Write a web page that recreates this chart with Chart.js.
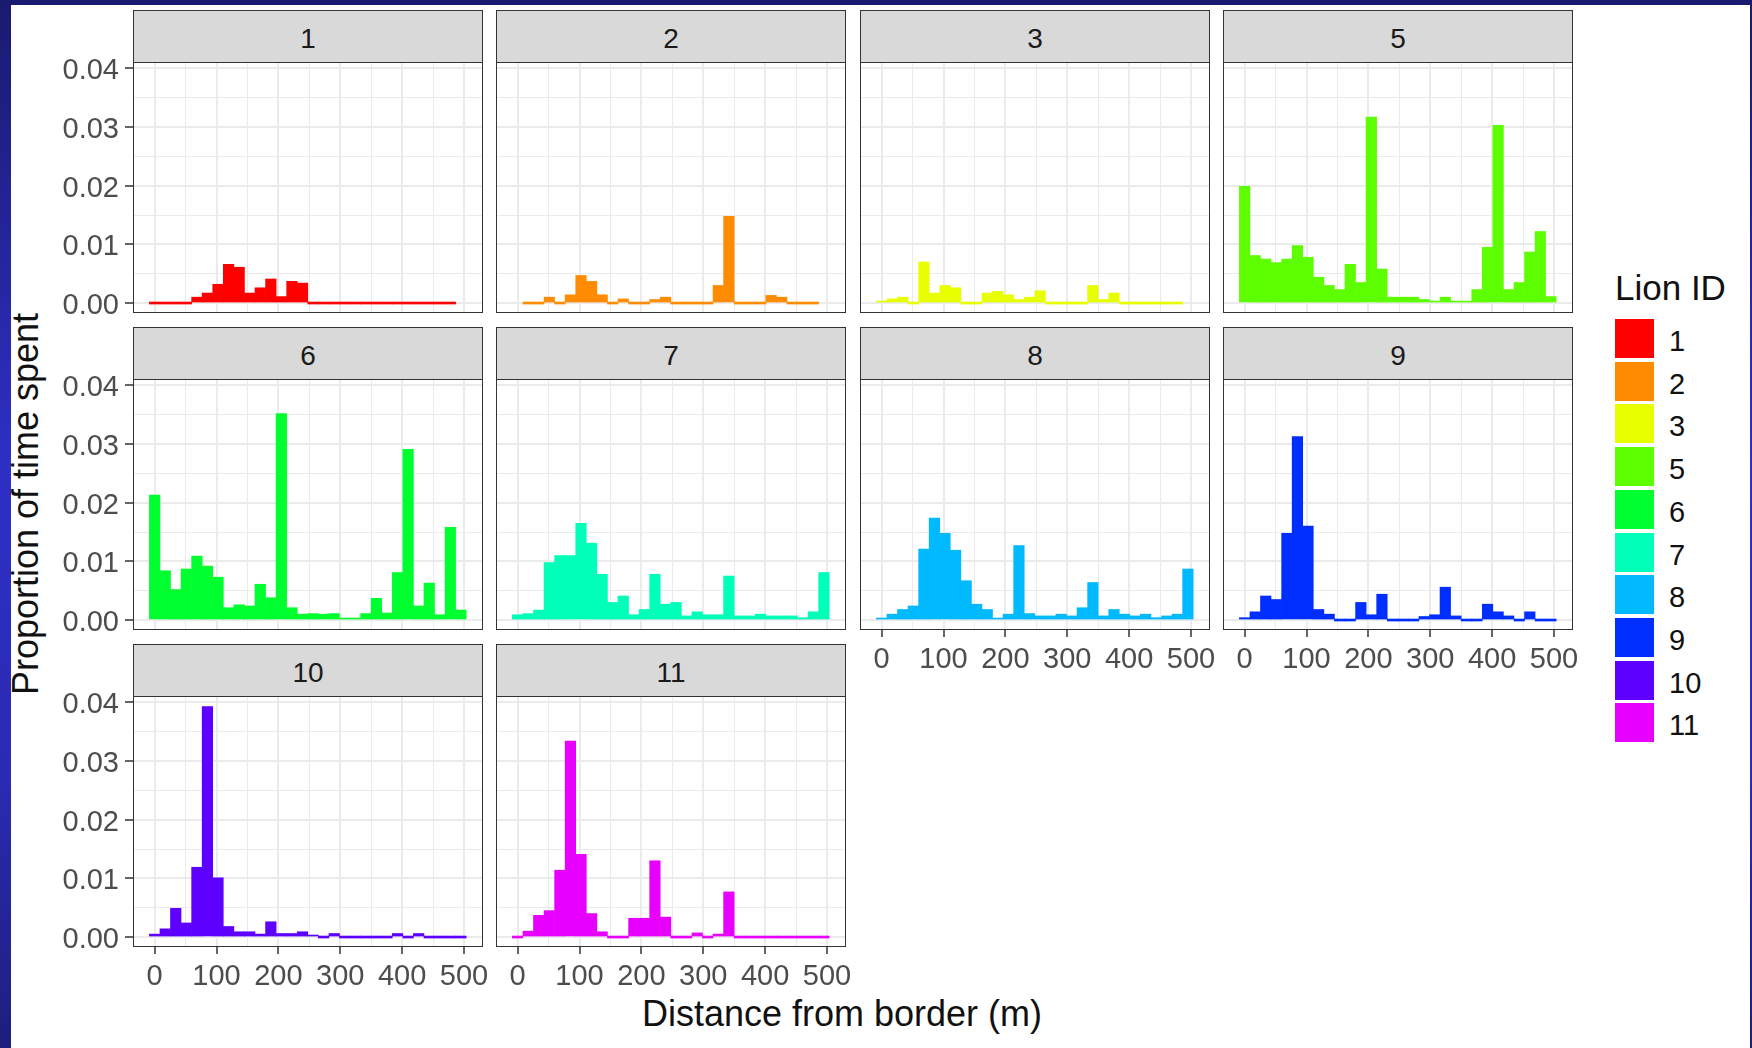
<!DOCTYPE html>
<html lang="en">
<head>
<meta charset="UTF-8">
<title>Proportion of time spent by distance from border</title>
<script src="https://cdn.jsdelivr.net/npm/chart.js"></script>
<style>
  body {
    margin: 0;
    width: 1752px;
    height: 1048px;
    overflow: hidden;
    position: relative;
    background: linear-gradient(to bottom, #1a1a70 0%, #2f2fc6 45%, #2a2ab2 75%, #1e1e7e 100%);
    font-family: "Liberation Sans", Arial, sans-serif;
  }
  .sheet { position: absolute; left: 11px; top: 5px; width: 1739px; height: 1043px; background: #fff; }
  .box { position: absolute; }
  .strip {
    position: absolute; background: #d9d9d9; border: 1.5px solid #333; box-sizing: border-box;
    text-align: center; color: #1a1a1a; font-size: 28px; line-height: 56px;
  }
  .frame { position: absolute; border: 1.5px solid #333; box-sizing: border-box; pointer-events: none; }
  .xtitle { position: absolute; left: 542px; top: 996px; width: 600px; text-align: center;
            font-size: 36px; line-height: 36px; color: #111; }
  .ytitle { position: absolute; left: -224px; top: 486px; width: 500px; height: 36px; text-align: center;
            font-size: 36px; line-height: 36px; color: #111; transform: rotate(-90deg); }
  .legend-title { position: absolute; left: 1615px; top: 268px; font-size: 35px; line-height: 40px; color: #111; }
  .key { position: absolute; left: 1615px; width: 39px; height: 39px; }
  .key-label { position: absolute; left: 1669px; font-size: 29px; line-height: 39px; color: #111; }
</style>
</head>
<body>
<div class="sheet"></div>
<div class="xtitle">Distance from border (m)</div>
<div class="ytitle">Proportion of time spent</div>
<div class="legend-title">Lion ID</div>

<script>
// histogram bins (centre of each 17 m bin)
const binCenters = [0, 17.1, 34.1, 51.2, 68.3, 85.3, 102.4, 119.5, 136.6, 153.6,
                    170.7, 187.8, 204.8, 221.9, 239, 256, 273.1, 290.2, 307.2, 324.3,
                    341.4, 358.4, 375.5, 392.6, 409.7, 426.7, 443.8, 460.9, 477.9, 495];
const xTicks = [0, 50, 100, 150, 200, 250, 300, 350, 400, 450, 500];
const yTicks = [0, 0.005, 0.01, 0.015, 0.02, 0.025, 0.03, 0.035, 0.04];

const lionIds = ['1', '2', '3', '5', '6', '7', '8', '9', '10', '11'];
const lionColors = ['#ff0000', '#ff8b00', '#e8ff00', '#5dff00', '#00ff2e',
                    '#00ffb9', '#00b9ff', '#002eff', '#5d00ff', '#e800ff'];

// proportion of time spent per bin, one array per lion
const lion1 = [0, 0, 0, 0, 0.001, 0.0017, 0.0032, 0.0066, 0.0061, 0.0017, 0.0026, 0.0041, 0.0011, 0.0037, 0.0034,
               0, 0, 0, 0, 0, 0, 0, 0, 0, 0, 0, 0, 0, 0, null];
const lion2 = [null, 0, 0, 0.001, 0, 0.0014, 0.0047, 0.0037, 0.0014, 0, 0.0007, 0, 0, 0.0006, 0.001,
               0, 0, 0, 0, 0.003, 0.0148, 0, 0, 0, 0.0013, 0.001, 0, 0, 0, null];
const lion3 = [0.0003, 0.0007, 0.001, 0, 0.007, 0.0017, 0.003, 0.0026, 0, 0, 0.0017, 0.002, 0.0014, 0.0006, 0.001,
               0.0021, 0, 0, 0, 0, 0.003, 0.0006, 0.0017, 0, 0, 0, 0, 0, 0, null];
const lion5 = [0.0199, 0.0081, 0.0075, 0.0069, 0.0075, 0.0098, 0.0078, 0.0044, 0.003, 0.0023, 0.0066, 0.0035, 0.0317, 0.0058, 0.001,
               0.001, 0.001, 0.0006, 0.0003, 0.001, 0.0003, 0.0003, 0.0023, 0.0095, 0.0303, 0.0023, 0.0035, 0.0087, 0.0122, 0.0011];
const lion6 = [0.0213, 0.0084, 0.0052, 0.0087, 0.0109, 0.0092, 0.0073, 0.0021, 0.0026, 0.0024, 0.0061, 0.0038, 0.0352, 0.0021, 0.001,
               0.0011, 0.001, 0.0011, 0.0003, 0.0003, 0.0011, 0.0037, 0.0012, 0.0081, 0.0291, 0.0024, 0.0063, 0.0009, 0.0158, 0.0017];
const lion7 = [0.0009, 0.0011, 0.0017, 0.0098, 0.011, 0.011, 0.0165, 0.0131, 0.0078, 0.003, 0.0041, 0.0009, 0.0018, 0.0078, 0.0027,
               0.003, 0.0007, 0.0014, 0.0009, 0.0009, 0.0075, 0.0007, 0.0007, 0.001, 0.0007, 0.0007, 0.0007, 0.0004, 0.0014, 0.0081];
const lion8 = [0.0003, 0.001, 0.0018, 0.0024, 0.0121, 0.0174, 0.0148, 0.0119, 0.0067, 0.0027, 0.0018, 0.0002, 0.001, 0.0127, 0.0011,
               0.0007, 0.0007, 0.001, 0.0007, 0.0021, 0.0064, 0.0007, 0.0018, 0.001, 0.0007, 0.001, 0.0004, 0.0007, 0.001, 0.0087];
const lion9 = [0.0004, 0.0014, 0.0041, 0.0035, 0.0148, 0.0313, 0.016, 0.0018, 0.001, 0, 0, 0.003, 0.0009, 0.0044, 0,
               0, 0, 0.0006, 0.0009, 0.0056, 0.0007, 0, 0, 0.0027, 0.0014, 0.0007, 0, 0.0014, 0, 0];
const lion10 = [0.0005, 0.0014, 0.0049, 0.0024, 0.0119, 0.0393, 0.0101, 0.0018, 0.0009, 0.0009, 0.0005, 0.0026, 0.0006, 0.0006, 0.0009,
                0.0003, 0, 0.0006, 0, 0, 0, 0, 0, 0.0006, 0, 0.0006, 0, 0, 0, 0];
const lion11 = [0, 0.001, 0.0037, 0.0045, 0.0114, 0.0334, 0.0141, 0.004, 0.0009, 0, 0, 0.0032, 0.0032, 0.013, 0.0034,
                0, 0, 0.0007, 0, 0.0005, 0.0077, 0, 0, 0, 0, 0, 0, 0, 0, 0];
const lionValues = [lion1, lion2, lion3, lion5, lion6, lion7, lion8, lion9, lion10, lion11];

// facet grid geometry
const plotLeft = [133, 496, 860, 1223];
const plotTop = [62, 379, 696];
const plotW = 350, plotH = 251, stripH = 52;
const yAxisW = 75, xAxisH = 50, pad = 40;
const fontFamily = '"Liberation Sans", Arial, sans-serif';

function isMajorX(v) { return v % 100 === 0; }
function isMajorY(v) { return Math.round(v * 1000) % 10 === 0; }

lionIds.forEach((id, i) => {
    const col = i % 4, row = Math.floor(i / 4);
    const showY = col === 0;
    const showX = row === 2 || (row === 1 && col >= 2);
    const aw = showY ? yAxisW : 0;
    const ah = showX ? xAxisH : 0;

    const strip = document.createElement('div');
    strip.className = 'strip';
    strip.style.left = plotLeft[col] + 'px';
    strip.style.top = (plotTop[row] - stripH) + 'px';
    strip.style.width = plotW + 'px';
    strip.style.height = (stripH + 1) + 'px';
    strip.textContent = id;
    document.body.appendChild(strip);

    const box = document.createElement('div');
    box.className = 'box';
    box.style.left = (plotLeft[col] - aw - pad) + 'px';
    box.style.top = (plotTop[row] - pad) + 'px';
    const canvas = document.createElement('canvas');
    canvas.width = pad + aw + plotW + pad;
    canvas.height = pad + plotH + ah + pad;
    box.appendChild(canvas);
    document.body.appendChild(box);

    const frame = document.createElement('div');
    frame.className = 'frame';
    frame.style.left = plotLeft[col] + 'px';
    frame.style.top = plotTop[row] + 'px';
    frame.style.width = plotW + 'px';
    frame.style.height = plotH + 'px';
    document.body.appendChild(frame);

    new Chart(canvas.getContext('2d'), {
        type: 'bar',
        data: {
            datasets: [{
                data: binCenters.map((x, k) => ({ x: x, y: lionValues[i][k] })),
                backgroundColor: lionColors[i],
                borderWidth: 0,
                barPercentage: 1,
                categoryPercentage: 1,
                minBarLength: 2
            }]
        },
        options: {
            responsive: false,
            animation: false,
            layout: { padding: pad },
            plugins: { legend: { display: false }, tooltip: { enabled: false } },
            scales: {
                x: {
                    type: 'linear',
                    min: -35,
                    max: 530.7,
                    offset: false,
                    afterBuildTicks: s => { s.ticks = xTicks.map(v => ({ value: v })); },
                    afterFit: s => { s.height = ah; },
                    border: { display: false },
                    grid: {
                        offset: false,
                        color: '#ebebeb',
                        lineWidth: c => isMajorX(c.tick.value) ? 2 : 1,
                        drawTicks: showX,
                        tickLength: 7,
                        tickWidth: 1.5,
                        tickColor: c => isMajorX(c.tick.value) ? '#333333' : 'rgba(0,0,0,0)'
                    },
                    ticks: {
                        display: showX,
                        autoSkip: false,
                        maxRotation: 0,
                        padding: 6,
                        color: '#4d4d4d',
                        font: { family: fontFamily, size: 29 },
                        callback: v => isMajorX(v) ? String(v) : ''
                    }
                },
                y: {
                    min: -0.0017,
                    max: 0.0411,
                    afterBuildTicks: s => { s.ticks = yTicks.map(v => ({ value: v })); },
                    afterFit: s => { s.width = aw; },
                    border: { display: false },
                    grid: {
                        color: '#ebebeb',
                        lineWidth: c => isMajorY(c.tick.value) ? 2 : 1,
                        drawTicks: showY,
                        tickLength: 8,
                        tickWidth: 1.5,
                        tickColor: c => isMajorY(c.tick.value) ? '#333333' : 'rgba(0,0,0,0)'
                    },
                    ticks: {
                        display: showY,
                        autoSkip: false,
                        padding: 6,
                        labelOffset: 3,
                        color: '#4d4d4d',
                        font: { family: fontFamily, size: 29 },
                        callback: v => isMajorY(v) ? v.toFixed(2) : ''
                    }
                }
            }
        }
    });
});

// legend
lionIds.forEach((id, i) => {
    const top = 319 + i * 42.7;
    const key = document.createElement('div');
    key.className = 'key';
    key.style.top = top + 'px';
    key.style.background = lionColors[i];
    document.body.appendChild(key);
    const label = document.createElement('div');
    label.className = 'key-label';
    label.style.top = (top + 3) + 'px';
    label.textContent = id;
    document.body.appendChild(label);
});
</script>
</body>
</html>
